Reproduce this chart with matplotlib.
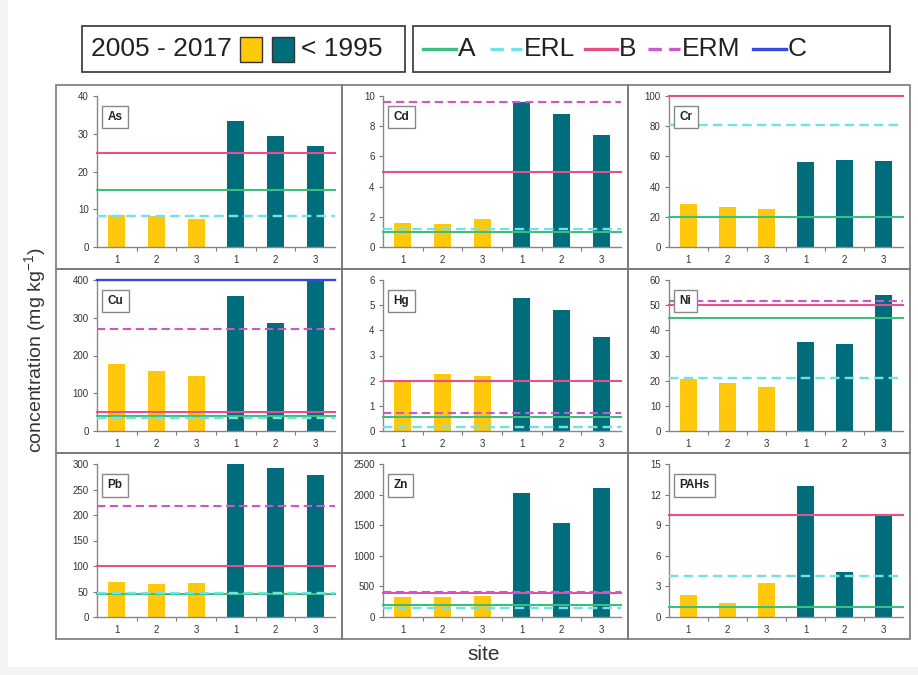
import matplotlib
matplotlib.use('Agg')
import matplotlib.pyplot as plt
from matplotlib.patches import Rectangle
from matplotlib.lines import Line2D
from matplotlib import font_manager

plt.rcParams['font.family'] = ['Liberation Sans', 'DejaVu Sans']
plt.rcParams['mathtext.fontset'] = 'custom'
plt.rcParams['mathtext.rm'] = 'Liberation Sans'
plt.rcParams['mathtext.default'] = 'regular'
installed = {f.name for f in font_manager.fontManager.ttflist}
narrow = 'Liberation Sans Narrow' if 'Liberation Sans Narrow' in installed else 'Liberation Sans'

# data
elements = ['As', 'Cd', 'Cr', 'Cu', 'Hg', 'Ni', 'Pb', 'Zn', 'PAHs']
site_labels = ['1', '2', '3', '1', '2', '3']
recent = [[8.5, 8.2, 7.3], [1.6, 1.55, 1.85], [28.5, 26.5, 25],
          [177, 158, 145], [2.0, 2.25, 2.2], [20.5, 19, 17.5],
          [69, 65, 67], [330, 330, 340], [2.2, 1.4, 3.3]]
old = [[33.3, 29.5, 26.8], [9.6, 8.8, 7.4], [56, 57.5, 57],
       [358, 287, 400], [5.3, 4.8, 3.75], [35.5, 34.5, 54],
       [300, 293, 278], [2020, 1530, 2100], [12.8, 4.4, 9.9]]
A_vals = [15, 1.0, 20, 40, 0.55, 45, 45, 200, 1.0]
ERL_vals = [8.2, 1.2, 81, 34, 0.15, 20.9, 46.7, 150, 4.0]
B_vals = [25, 5, 100, 50, 2, 50, 100, 400, 10]
ERM_vals = [None, 9.6, None, 270, 0.71, 51.6, 218, 410, None]
C_vals = [None, None, None, 400, None, None, None, None, None]
y_max = [40, 10, 100, 400, 6, 60, 300, 2500, 15]
y_step = [10, 2, 20, 100, 1, 10, 50, 500, 3]

yellow = '#ffc80a'
teal = '#006d7c'
line_styles = {
    'A': dict(color='#3cbf7e', ls='-', lw=1.5),
    'ERL': dict(color='#6fe3e6', ls=(0, (4, 2.2)), lw=1.7),
    'B': dict(color='#e8508c', ls='-', lw=1.5),
    'ERM': dict(color='#cf55cc', ls=(0, (4, 2.2)), lw=1.5),
    'C': dict(color='#3549de', ls='-', lw=1.7),
}
line_vals = {'A': A_vals, 'ERL': ERL_vals, 'B': B_vals, 'ERM': ERM_vals, 'C': C_vals}

W, H = 918, 675
fig = plt.figure(figsize=(W / 100, H / 100), dpi=100, facecolor='#f3f3f3')


def fx(px):
    return px / W


def fy(py):
    return 1 - py / H


def frect(x0, y0, x1, y1, **kw):
    r = Rectangle((fx(x0), fy(y1)), fx(x1) - fx(x0), fy(y0) - fy(y1),
                  transform=fig.transFigure, **kw)
    fig.add_artist(r)
    return r


# white page inside a faint grey margin
frect(8, 0, 918, 667, fc='white', ec='none', zorder=-10)

col_edges = [56, 342, 628, 910]
row_edges = [85, 269, 453, 639]
grid_col = '#7a7a7a'

for i, el in enumerate(elements):
    r, c = divmod(i, 3)
    x0, x1 = col_edges[c], col_edges[c + 1]
    y0, y1 = row_edges[r], row_edges[r + 1]
    frect(x0, y0, x1, y1, fill=False, ec=grid_col, lw=1.2, zorder=0)

    left, right = x0 + 41, x1 - 7
    top, bottom = y0 + 11, y1 - 22
    ax = fig.add_axes([fx(left), fy(bottom), fx(right) - fx(left), fy(top) - fy(bottom)])

    xs = list(range(6))
    ax.bar(xs[:3], recent[i], width=0.43, color=yellow, zorder=2)
    ax.bar(xs[3:], old[i], width=0.43, color=teal, zorder=2)

    for name in ['A', 'ERL', 'B', 'ERM', 'C']:
        v = line_vals[name][i]
        if v is not None:
            st = line_styles[name]
            ax.axhline(v, color=st['color'], linestyle=st['ls'], lw=st['lw'],
                       zorder=3, clip_on=False)

    ax.set_xlim(-0.5, 5.5)
    ax.set_ylim(0, y_max[i])
    ax.set_yticks([k * y_step[i] for k in range(int(round(y_max[i] / y_step[i])) + 1)])
    ax.set_xticks(xs)
    ax.set_xticklabels(site_labels)
    ax.set_xticks([x + 0.5 for x in xs[:-1]], minor=True)
    ax.tick_params(axis='x', which='major', length=0, pad=6, labelsize=7, labelcolor='#333333')
    ax.tick_params(axis='x', which='minor', length=3, width=0.8, color='#777777', direction='out')
    ax.tick_params(axis='y', length=3, width=0.8, color='#777777', labelsize=7,
                   labelcolor='#333333', pad=3)
    for s in ['top', 'right']:
        ax.spines[s].set_visible(False)
    for s in ['left', 'bottom']:
        ax.spines[s].set_color('#888888')
        ax.spines[s].set_linewidth(1.0)
    ax.set_facecolor('none')

    ax.text(0.045, 0.9, el, transform=ax.transAxes, ha='left', va='top',
            fontsize=8.5, fontweight='bold', color='#222222', zorder=5,
            bbox=dict(boxstyle='square,pad=0.45', fc='white', ec='#888888', lw=1))

# axis titles
fig.text(fx(35), fy(350), 'concentration (mg kg$^{-1}$)', rotation=90,
         ha='center', va='center', fontsize=14, color='#333333')
fig.text(fx(484), fy(655), 'site', ha='center', va='center', fontsize=15, color='#333333')

# legend 1: period boxes
frect(82, 26, 405, 72, fill=False, ec='#333333', lw=1.2)
fig.text(fx(91), fy(49), '2005 - 2017', ha='left', va='center', fontsize=19,
         family=narrow, color='#222222')
frect(240, 37, 262, 62, fc=yellow, ec='#333333', lw=1.0)
frect(272, 37, 294, 62, fc=teal, ec='#333333', lw=1.0)
fig.text(fx(301), fy(49), '< 1995', ha='left', va='center', fontsize=19,
         family=narrow, color='#222222')

# legend 2: guideline values
frect(413, 26, 890, 72, fill=False, ec='#333333', lw=1.2)
leg_items = [('A', 423, 456), ('ERL', 490, 522), ('B', 585, 617),
             ('ERM', 648, 680), ('C', 753, 786)]
for name, lx0, lx1 in leg_items:
    st = line_styles[name]
    fig.add_artist(Line2D([fx(lx0), fx(lx1)], [fy(49), fy(49)], transform=fig.transFigure,
                          color=st['color'], linestyle=st['ls'], lw=2.4))
    fig.text(fx(lx1 + 2), fy(49), name, ha='left', va='center', fontsize=19,
             family=narrow, color='#222222')

fig.savefig('out.png', dpi=100, facecolor=fig.get_facecolor())
